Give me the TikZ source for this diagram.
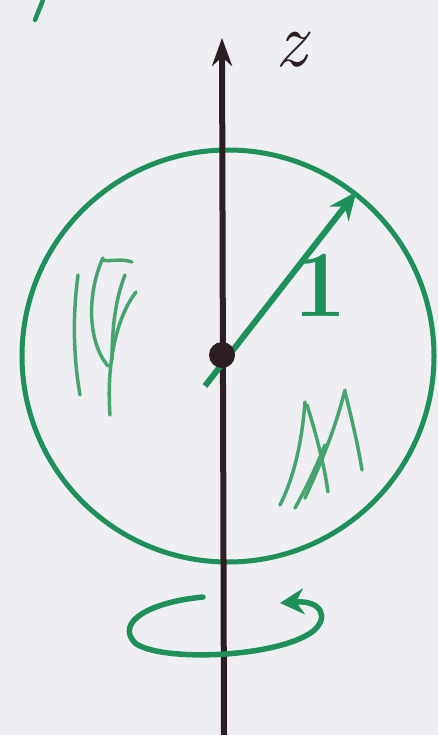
\documentclass[tikz,border=0pt]{standalone}
\usepackage{tikz}
\usetikzlibrary{arrows.meta}
\definecolor{pengreen}{RGB}{30,145,90}
\definecolor{hatchgreen}{RGB}{70,165,110}
\definecolor{inkdark}{RGB}{45,30,35}
\definecolor{paper}{RGB}{238,238,243}

\begin{document}
\begin{tikzpicture}[x=1pt, y=-1pt,
    rim/.style={circle, draw=pengreen, line width=5pt, minimum size=412pt, inner sep=0pt},
    centre/.style={circle, fill=inkdark, minimum size=26pt, inner sep=0pt},
    zaxis/.style={-{Stealth[length=28pt, width=20pt]}, line width=6pt, draw=inkdark},
    radiusarrow/.style={-{Stealth[length=28pt, width=24pt]}, line width=6pt, draw=pengreen},
    hatch/.style={line width=3.5pt, draw=hatchgreen, line cap=round},
    spin/.style={-{Stealth[length=24pt, width=26pt]}, line width=5.5pt, draw=pengreen, line cap=round}
]
    \fill[paper] (0,0) rectangle (438,735);
    \useasboundingbox (0,0) rectangle (438,735);

    % sphere and rotation axis
    \node[rim] (ball) at (228,356) {};
    \coordinate (bottom) at (224,735);
    \coordinate (top) at (222,38);
    \draw[zaxis] (bottom) -- (top);
    \node[font=\itshape\fontsize{78}{78}\selectfont, text=inkdark, inner sep=0pt] (zlabel) at (291,50) {z};

    % unit radius
    \coordinate (tail) at (205,386);
    \draw[radiusarrow] (tail) -- (ball.52);
    \node[centre] (origin) at (222,355) {};
    \node[font=\bfseries\fontsize{95}{95}\selectfont, text=pengreen] (one) at (320,285) {1};

    % hatching
    \draw[hatch] (78,275) .. controls (72,320) and (74,360) .. (80,395);
    \draw[hatch] (103,258) .. controls (88,290) and (86,340) .. (108,366);
    \draw[hatch] (103,260) .. controls (110,262) and (120,258) .. (132,262);
    \draw[hatch] (136,292) .. controls (118,315) and (106,360) .. (110,415);
    \draw[hatch] (125,275) .. controls (115,300) and (112,330) .. (112,360);
    \draw[hatch] (305,402) .. controls (302,440) and (295,475) .. (280,505);
    \draw[hatch] (307,405) .. controls (318,440) and (325,470) .. (328,492);
    \draw[hatch] (345,390) .. controls (335,430) and (320,465) .. (305,498);
    \draw[hatch] (345,392) .. controls (352,420) and (358,445) .. (362,470);
    \draw[hatch] (325,445) .. controls (315,470) and (305,490) .. (295,508);

    % small stroke at the top
    \coordinate (tickA) at (35,20);
    \coordinate (tickB) at (43,0);
    \draw[hatch, draw=pengreen, line width=4.5pt] (tickA) -- (tickB);

    % sense of rotation
    \coordinate (spinstart) at (203,597);
    \coordinate (spinend) at (280,603);
    \draw[spin] (spinstart) .. controls (150,602) and (115,622) .. (135,643)
        .. controls (160,662) and (275,658) .. (312,632)
        .. controls (330,618) and (322,600) .. (spinend);
\end{tikzpicture}
\end{document}
